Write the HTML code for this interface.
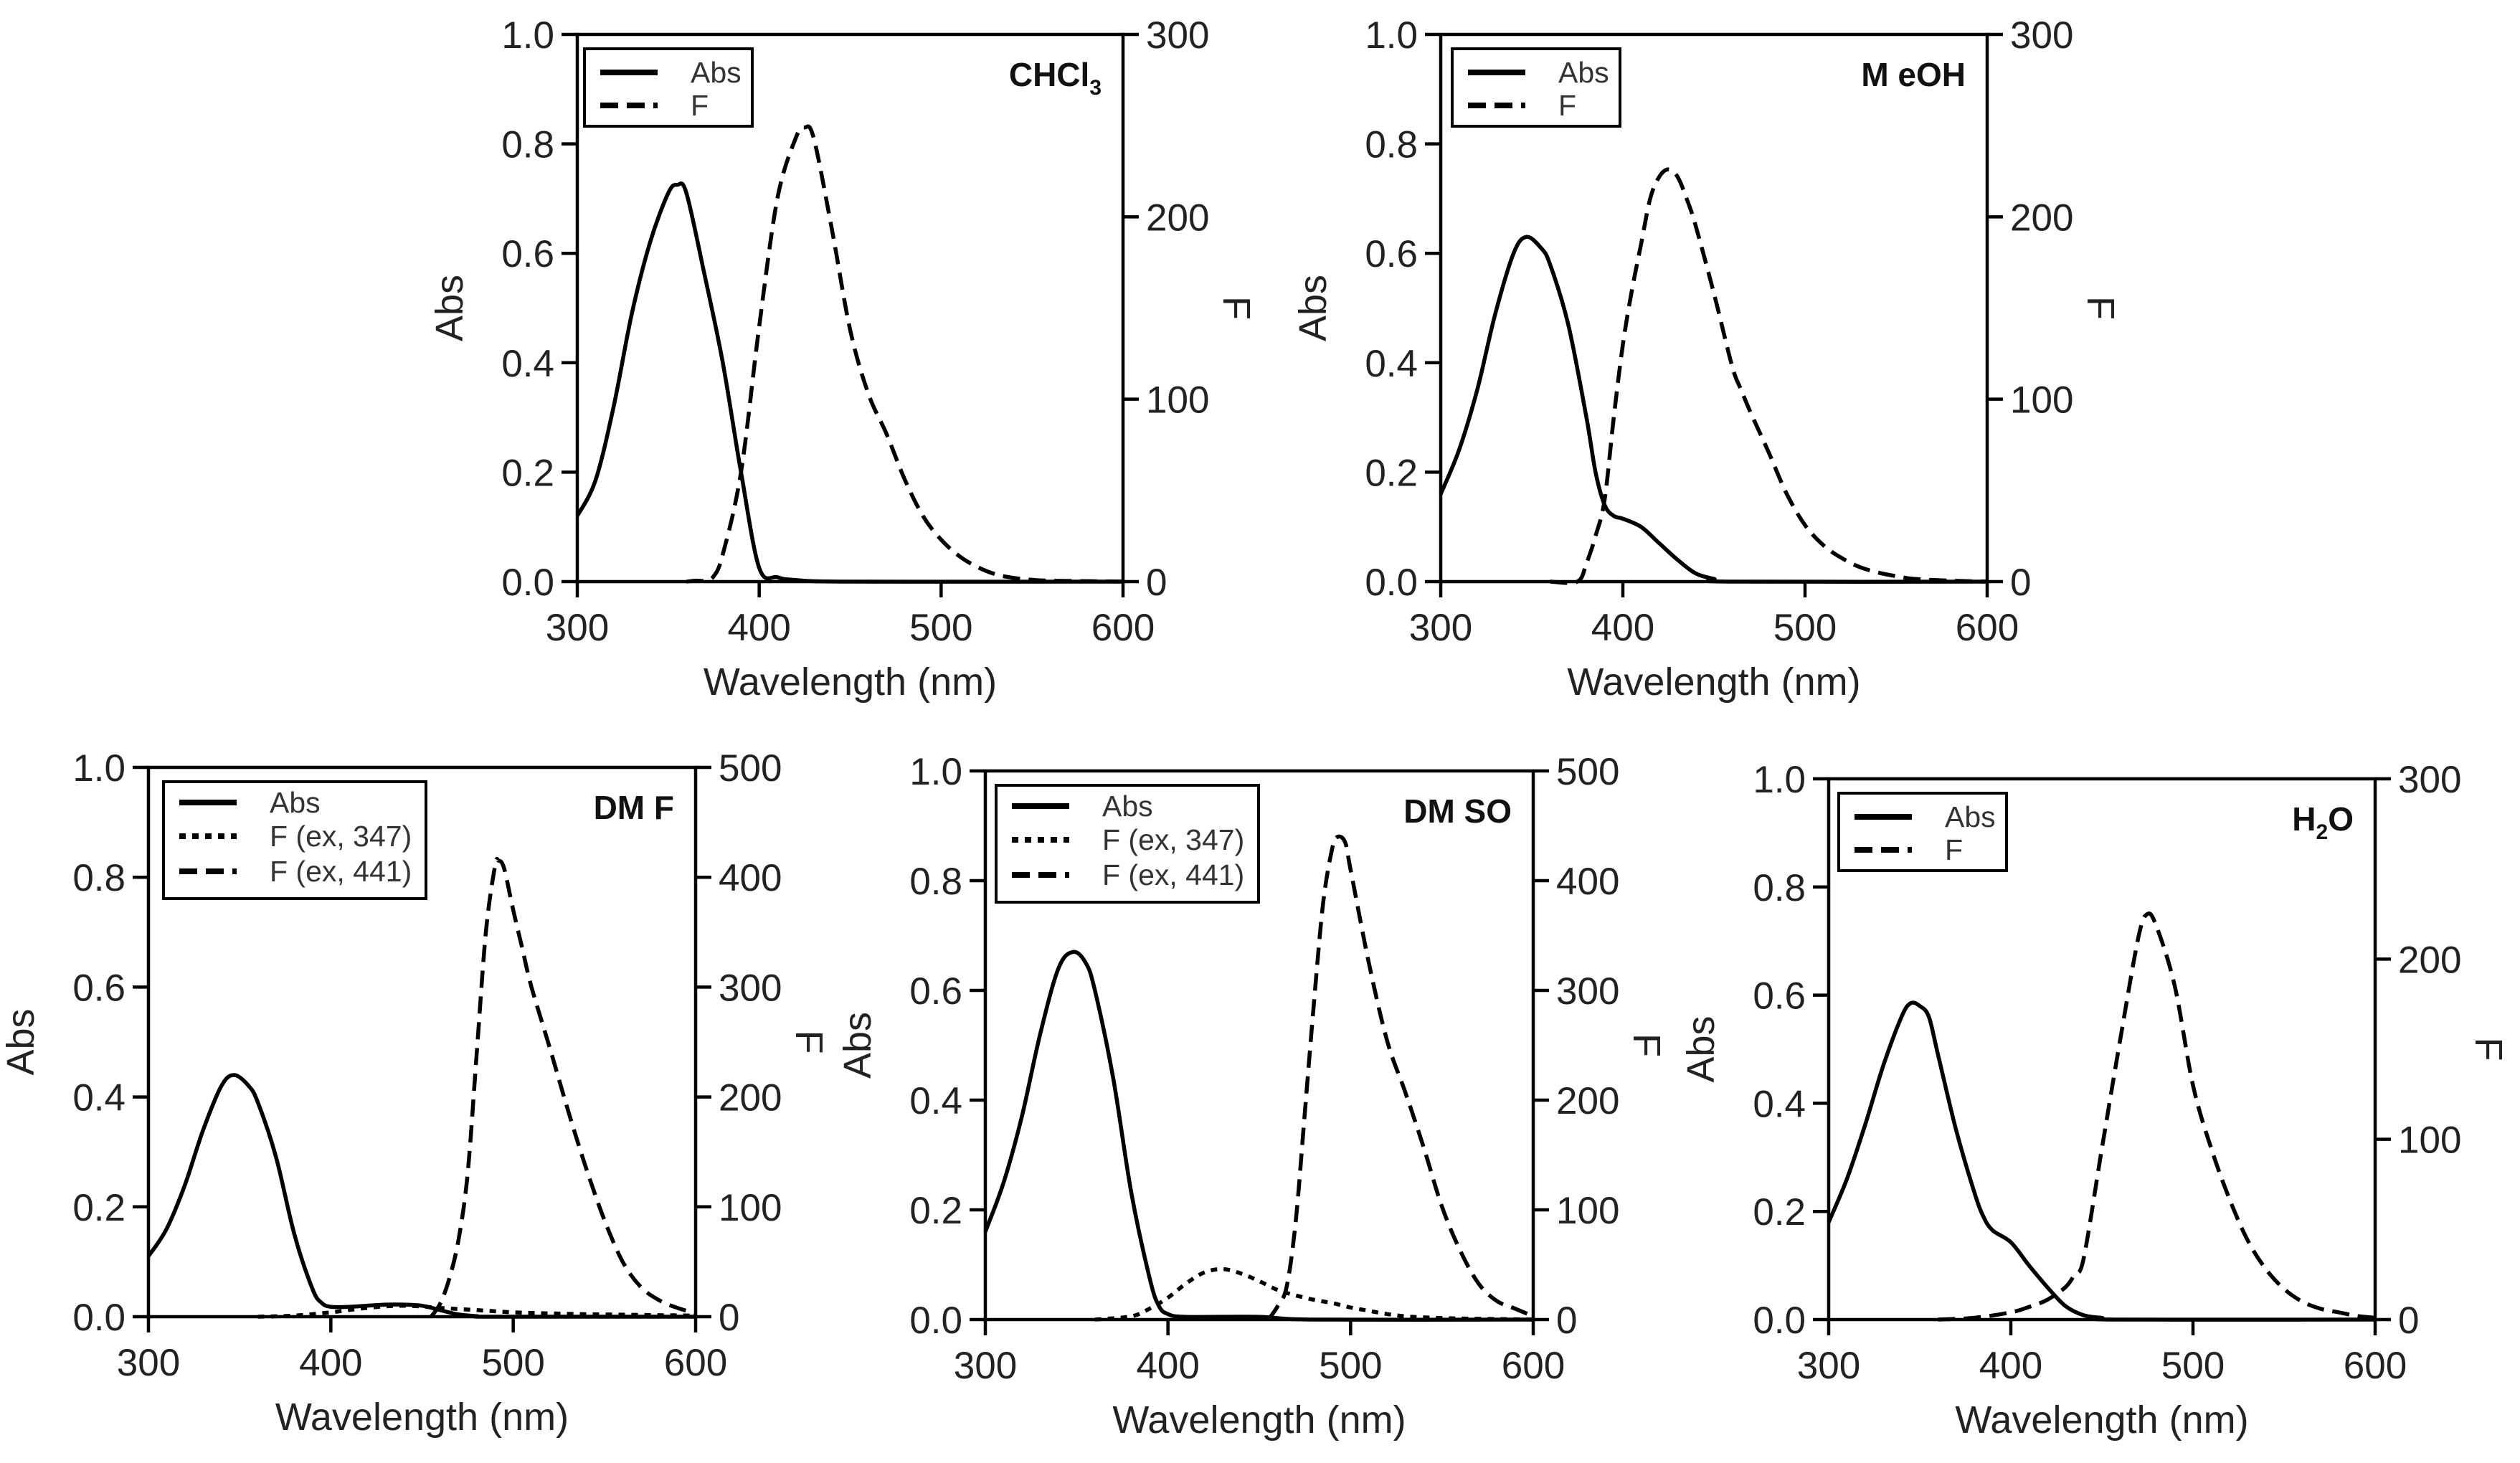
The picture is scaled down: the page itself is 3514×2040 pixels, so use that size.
<!DOCTYPE html>
<html><head><meta charset="utf-8"><style>
html,body{margin:0;padding:0;background:#fff;}
svg{display:block;font-family:"Liberation Sans",Arial,sans-serif;}
</style></head><body>
<svg id="fig" width="3514" height="2040" viewBox="0 0 3514 2040" xmlns="http://www.w3.org/2000/svg"></svg>
<script>
// ---- data ----
const xTicks = [300, 400, 500, 600];
const absTicks = [0.0, 0.2, 0.4, 0.6, 0.8, 1.0];
const fTicks300 = [0, 100, 200, 300];
const fTicks500 = [0, 100, 200, 300, 400, 500];

const chclAbsX = [300,310,320,330,340,350,355,360,370,380,390,400,410,420,450,600];
const chclAbsY = [0.12,0.185,0.32,0.49,0.62,0.71,0.725,0.71,0.56,0.40,0.20,0.025,0.008,0.003,0,0];
const chclFX = [360,365,370,375,380,390,400,410,420,425,430,440,450,460,470,480,490,500,510,520,530,540,550,560,600];
const chclFY = [0,0.5,0.5,3,15,60,140,210,243,249,243,193,138,103,81,56,36,23,14,8,4,2,1,0.5,0];

const meohAbsX = [300,310,320,330,340,347,355,360,370,380,385,390,395,400,410,420,430,440,450,460,600];
const meohAbsY = [0.16,0.24,0.35,0.49,0.60,0.63,0.61,0.58,0.47,0.30,0.20,0.14,0.12,0.115,0.10,0.07,0.04,0.015,0.005,0,0];
const meohFX = [360,375,380,385,390,395,400,405,410,415,420,425,430,435,440,450,460,465,470,480,490,500,510,520,530,540,550,560,580,600];
const meohFY = [0,0,10,25,45,90,130,160,185,210,222,226,222,210,195,158,118,105,93,71,48,31,20,13,8,5,3,1.5,0.5,0];

const dmfAbsX = [300,310,320,330,340,347,355,360,370,380,390,395,400,410,420,430,440,450,460,470,480,490,600];
const dmfAbsY = [0.11,0.16,0.24,0.34,0.42,0.44,0.42,0.39,0.29,0.15,0.05,0.025,0.018,0.018,0.02,0.022,0.022,0.02,0.012,0.004,0.001,0,0];
const dmfF1X = [360,380,400,420,440,460,480,500,520,550,600];
const dmfF1Y = [0,1,4,8,10,8,6,4,3,2,1];
const dmfF2X = [455,460,465,470,475,480,485,490,492,495,500,505,510,520,530,540,550,560,570,580,590,600];
const dmfF2Y = [0,12,35,70,130,240,350,410,415,408,370,335,300,245,188,135,88,50,27,15,8,3];

const dmsoAbsX = [300,310,320,330,340,348,355,360,370,380,390,395,400,410,450,480,600];
const dmsoAbsY = [0.16,0.25,0.37,0.52,0.64,0.67,0.65,0.60,0.44,0.23,0.075,0.025,0.01,0.005,0.005,0,0];
const dmsoF1X = [360,380,390,400,410,420,430,440,450,460,470,480,490,500,510,520,530,540,560,600];
const dmsoF1Y = [0,3,10,20,33,43,46,42,35,27,22,18,15,11,8,5,3,2,1,0];
const dmsoF2X = [455,460,465,470,475,480,485,490,493,497,500,510,520,530,540,550,560,570,580,590,600];
const dmsoF2Y = [0,12,30,90,190,290,380,430,440,435,410,325,254,207,157,103,63,33,17,10,3];

const h2oAbsX = [300,310,320,330,340,345,350,355,360,370,380,385,390,400,410,420,430,440,450,460,600];
const h2oAbsY = [0.18,0.26,0.36,0.47,0.56,0.585,0.58,0.56,0.49,0.35,0.235,0.19,0.165,0.143,0.10,0.06,0.025,0.008,0.003,0,0];
const h2oFX = [360,380,400,410,420,430,435,440,450,460,470,475,480,490,500,510,520,530,540,550,560,570,580,590,600];
const h2oFY = [0,1,4,7,11,18,25,34,95,155,212,225,218,185,130,95,67,44,28,17,10,6,4,2,1];

// ---- drawing ----
const NS = "http://www.w3.org/2000/svg";
const svg = document.getElementById('fig');
function mk(tag, attrs, parent){
  const e = document.createElementNS(NS, tag);
  for (const k in attrs) e.setAttribute(k, attrs[k]);
  (parent||svg).appendChild(e);
  return e;
}
function smoothPath(pts){
  let d = 'M' + pts[0][0].toFixed(1) + ',' + pts[0][1].toFixed(1);
  for (let i=0;i<pts.length-1;i++){
    const p0 = pts[Math.max(0,i-1)], p1 = pts[i], p2 = pts[i+1], p3 = pts[Math.min(pts.length-1,i+2)];
    const c1x = p1[0]+(p2[0]-p0[0])/6, c1y = p1[1]+(p2[1]-p0[1])/6;
    const c2x = p2[0]-(p3[0]-p1[0])/6, c2y = p2[1]-(p3[1]-p1[1])/6;
    d += 'C'+c1x.toFixed(1)+','+c1y.toFixed(1)+' '+c2x.toFixed(1)+','+c2y.toFixed(1)+' '+p2[0].toFixed(1)+','+p2[1].toFixed(1);
  }
  return d;
}
const DASH = '24 12', DOT = '9 9';

function panel(cfg){
  const g = mk('g', {});
  
  
  const L=cfg.x0, R=cfg.x1, T=cfg.y0, B=cfg.y1;
  const xs = v => L + (v-300)/300*(R-L);
  const ya = v => B - v/1.0*(B-T);
  const yf = v => B - v/cfg.fmax*(B-T);
  const fr = mk('rect', {x:L, y:T, width:R-L, height:B-T, fill:'none', stroke:'#000', 'stroke-width':4.5}, g);
  
  
  xTicks.forEach(v=>{
    mk('line',{x1:xs(v),x2:xs(v),y1:B,y2:B+22,stroke:'#000','stroke-width':4.5},g);
    const t = mk('text',{x:xs(v),y:B+82,'text-anchor':'middle','font-size':53,fill:'#222'},g);
    t.textContent = v;
    
    
  });
  absTicks.forEach(v=>{
    mk('line',{x1:L-22,x2:L,y1:ya(v),y2:ya(v),stroke:'#000','stroke-width':4.5},g);
    const t = mk('text',{x:L-32,y:ya(v)+19,'text-anchor':'end','font-size':53,fill:'#222'},g);
    t.textContent = v.toFixed(1);
    
    
  });
  cfg.fticks.forEach(v=>{
    mk('line',{x1:R,x2:R+22,y1:yf(v),y2:yf(v),stroke:'#000','stroke-width':4.5},g);
    const t = mk('text',{x:R+32,y:yf(v)+19,'text-anchor':'start','font-size':53,fill:'#222'},g);
    t.textContent = v;
    
    
  });
  const xt = mk('text',{x:(L+R)/2,y:B+158,'text-anchor':'middle','font-size':54,fill:'#222'},g);
  xt.textContent = 'Wavelength (nm)';
  
  
  const cy=(T+B)/2;
  const at = mk('text',{x:0,y:0,'text-anchor':'middle','font-size':54,fill:'#222',transform:'translate('+(L-160)+','+cy+') rotate(-90)'},g);
  at.textContent = 'Abs';
  
  
  const ft = mk('text',{x:0,y:0,'text-anchor':'middle','font-size':54,fill:'#222',transform:'translate('+(R+140)+','+cy+') rotate(90)'},g);
  ft.textContent = 'F';
  
  
  cfg.series.forEach(s=>{
    const yfun = s.axis==='abs' ? ya : yf;
    const pts = s.x.map((v,i)=>[xs(v), yfun(s.y[i])]);
    const p = mk('path',{d:smoothPath(pts),fill:'none',stroke:'#000','stroke-width':5.5,'stroke-linejoin':'round'},g);
    if (s.dash) p.setAttribute('stroke-dasharray', s.dash);
    
    
  });
  const n = cfg.series.length;
  const lw = n===3 ? 366 : 234, lh = n===3 ? 163 : 108;
  const lx = L+cfg.legDx, ly = T+20;
  const lg = mk('g',{},g);
  
  
  mk('rect',{x:lx,y:ly,width:lw,height:lh,fill:'#fff',stroke:'#000','stroke-width':4},lg);
  const rowY = n===3 ? [29,76,125] : [33,79];
  cfg.series.forEach((s,i)=>{
    const yy = ly + rowY[i];
    const ln = mk('line',{x1:lx+22,x2:lx+102,y1:yy,y2:yy,stroke:'#000','stroke-width':8},lg);
    if (s.dash) ln.setAttribute('stroke-dasharray', s.dash===DOT ? '9 9' : '25 12');
    
    
    const tx = mk('text',{x:lx+148,y:yy+14,'font-size':41,fill:'#333'},lg);
    tx.textContent = s.label;
    
    
  });
  const sl = mk('text',{x:R-30,y:T+72,'text-anchor':'end','font-size':46,'font-weight':'bold',fill:'#111'},g);
  sl.innerHTML = cfg.label;
  
  
}

panel({name:'chcl3',x0:805,x1:1566,y0:48,y1:811,fmax:300,fticks:fTicks300,legDx:10,
  label:'CHCl<tspan font-size="30" dy="12">3</tspan>',
  series:[{name:'chcl3-abs',label:'Abs',axis:'abs',x:chclAbsX,y:chclAbsY},
          {name:'chcl3-f',label:'F',axis:'f',dash:DASH,x:chclFX,y:chclFY}]});
panel({name:'meoh',x0:2009,x1:2771,y0:48,y1:811,fmax:300,fticks:fTicks300,legDx:16,
  label:'M eOH',
  series:[{name:'meoh-abs',label:'Abs',axis:'abs',x:meohAbsX,y:meohAbsY},
          {name:'meoh-f',label:'F',axis:'f',dash:DASH,x:meohFX,y:meohFY}]});
panel({name:'dmf',x0:207,x1:970,y0:1070,y1:1836,fmax:500,fticks:fTicks500,legDx:21,
  label:'DM F',
  series:[{name:'dmf-abs',label:'Abs',axis:'abs',x:dmfAbsX,y:dmfAbsY},
          {name:'dmf-f-ex347',label:'F (ex, 347)',axis:'f',dash:DOT,x:dmfF1X,y:dmfF1Y},
          {name:'dmf-f-ex441',label:'F (ex, 441)',axis:'f',dash:DASH,x:dmfF2X,y:dmfF2Y}]});
panel({name:'dmso',x0:1374,x1:2138,y0:1075,y1:1840,fmax:500,fticks:fTicks500,legDx:15,
  label:'DM SO',
  series:[{name:'dmso-abs',label:'Abs',axis:'abs',x:dmsoAbsX,y:dmsoAbsY},
          {name:'dmso-f-ex347',label:'F (ex, 347)',axis:'f',dash:DOT,x:dmsoF1X,y:dmsoF1Y},
          {name:'dmso-f-ex441',label:'F (ex, 441)',axis:'f',dash:DASH,x:dmsoF2X,y:dmsoF2Y}]});
panel({name:'h2o',x0:2550,x1:3312,y0:1086,y1:1840,fmax:300,fticks:fTicks300,legDx:14,
  label:'H<tspan font-size="30" dy="12">2</tspan><tspan dy="-12">O</tspan>',
  series:[{name:'h2o-abs',label:'Abs',axis:'abs',x:h2oAbsX,y:h2oAbsY},
          {name:'h2o-f',label:'F',axis:'f',dash:DASH,x:h2oFX,y:h2oFY}]});
</script>
</body></html>
